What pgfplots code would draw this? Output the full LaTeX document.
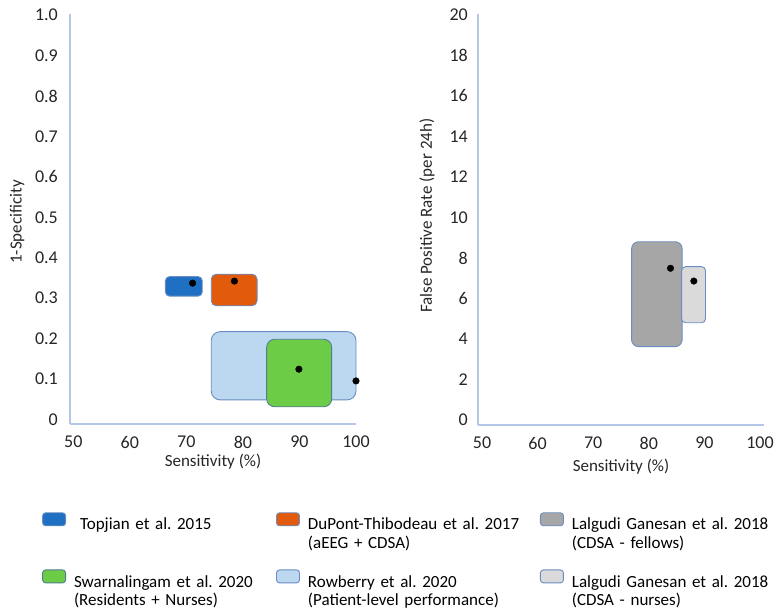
\documentclass[border=0pt]{standalone}
\usepackage{pgfplots}
\pgfplotsset{compat=1.18}
\usepackage{fontspec}
\setmainfont{Carlito}
\frenchspacing

\definecolor{axblue}{HTML}{B4C7E7}
\definecolor{tickgray}{HTML}{262626}
\definecolor{edge}{HTML}{6A8CC2}
\definecolor{cTop}{HTML}{1F6FC2}
\definecolor{cDup}{HTML}{E25A0C}
\definecolor{cSwa}{HTML}{6CCC46}
\definecolor{eSwa}{HTML}{4F7F8E}
\definecolor{cRow}{HTML}{BBD8F0}
\definecolor{cFel}{HTML}{A6A6A6}
\definecolor{cNur}{HTML}{DADADA}

\newcommand\tickfont{\fontsize{18}{21}\selectfont}
\newcommand\labfont{\fontsize{17}{20}\selectfont}
\newcommand\legfont{\fontsize{17}{18.5}\selectfont}

\pgfplotsset{
  panel/.style={
    scale only axis, width=286pt,
    axis lines*=left,
    axis line style={draw=axblue, line width=1.2pt},
    major tick length=0pt,
    tick style={draw=none},
    ticklabel style={font=\tickfont, text=tickgray},
    xticklabel style={inner sep=0pt, anchor=north, yshift=-12pt},
    xtick={50,60,70,80,90,100},
    xticklabels={50,60,70,80,90,100},
    label style={font=\labfont, text=tickgray},
    clip=false,
  },
  box/.style={rounded corners=#1, line width=0.9pt, draw=edge},
  dot/.style={only marks, mark=*, mark size=3.3pt, black, forget plot},
}

\begin{document}
\begin{tikzpicture}
\useasboundingbox (0pt,0pt) rectangle (778pt,609pt);

% Sensitivity vs 1-specificity
\begin{axis}[panel, at={(70pt,185pt)}, anchor=south west, height=410pt,
  xmin=49.42, xmax=100, ymin=-0.0116, ymax=1.003,
  ytick={0,0.1,0.2,0.3,0.4,0.5,0.6,0.7,0.8,0.9,1.0},
  yticklabels={0,0.1,0.2,0.3,0.4,0.5,0.6,0.7,0.8,0.9,1.0},
  yticklabel style={inner sep=0pt, anchor=east, xshift=-12pt},
  ylabel={1-Specificity},
  ylabel style={at={(axis description cs:-0.185,0.493)}, anchor=center},
  xlabel={Sensitivity (\%)},
  xlabel style={at={(axis description cs:0.5,-0.093)}, anchor=center},
  legend columns=3,
  legend cell align=left,
  legend style={at={(axis description cs:-0.098,-0.215)}, anchor=north west,
    draw=none, fill=none, inner sep=0pt, font=\legfont, row sep=37pt,
    /tikz/every odd column/.style={column sep=7pt},
    nodes={inner sep=1pt, align=left}},
  legend image code/.code={\draw[#1, rounded corners=3pt, line width=0.9pt] (0pt,-1pt) rectangle (23pt,12pt);},
]
% confidence regions
\addplot[box=4pt, fill=cTop, forget plot] coordinates {(66.3,0.305) (72.8,0.305) (72.8,0.353) (66.3,0.353)} -- cycle;
\addplot[box=5pt, fill=cDup, forget plot] coordinates {(74.4,0.281) (82.5,0.281) (82.5,0.359) (74.4,0.359)} -- cycle;
\addplot[box=9pt, fill=cRow, forget plot] coordinates {(74.4,0.048) (100.0,0.048) (100.0,0.217) (74.4,0.217)} -- cycle;
\addplot[box=8pt, fill=cSwa, draw=eSwa, forget plot] coordinates {(84.2,0.031) (95.7,0.031) (95.7,0.198) (84.2,0.198)} -- cycle;
% point estimates
\addplot[dot] coordinates {(71.1,0.337) (78.5,0.342) (89.9,0.124) (100.0,0.095)};

% legend
\addlegendimage{fill=cTop, draw=edge}
\addlegendentry[text width=201pt]{\hspace*{6pt}Topjian et al. 2015}
\addlegendimage{fill=cDup, draw=edge}
\addlegendentry[text width=231pt]{DuPont-Thibodeau et al. 2017\\(aEEG + CDSA)}
\addlegendimage{fill=cFel, draw=edge}
\addlegendentry[text width=200pt]{Lalgudi Ganesan et al. 2018\\(CDSA - fellows)}
\addlegendimage{fill=cSwa, draw=eSwa}
\addlegendentry[text width=201pt]{Swarnalingam et al. 2020\\(Residents + Nurses)}
\addlegendimage{fill=cRow, draw=edge}
\addlegendentry[text width=231pt]{Rowberry et al. 2020\\(Patient-level performance)}
\addlegendimage{fill=cNur, draw=edge}
\addlegendentry[text width=200pt]{Lalgudi Ganesan et al. 2018\\(CDSA - nurses)}
\end{axis}

% Sensitivity vs false positive rate
\begin{axis}[panel, at={(478pt,184pt)}, anchor=south west, height=411pt,
  xmin=49.28, xmax=100.72, ymin=-0.25, ymax=20.05,
  ytick={0,2,4,6,8,10,12,14,16,18,20},
  yticklabels={0,2,4,6,8,10,12,14,16,18,20},
  yticklabel style={inner sep=0pt, anchor=east, xshift=-10pt},
  ylabel={False Positive Rate (per 24h)},
  ylabel style={at={(axis description cs:-0.178,0.509)}, anchor=center},
  xlabel={Sensitivity (\%)},
  xlabel style={at={(axis description cs:0.5,-0.102)}, anchor=center},
]
\addplot[box=7pt, fill=cFel] coordinates {(76.9,3.62) (86.0,3.62) (86.0,8.80) (76.9,8.80)} -- cycle;
\addplot[box=4pt, fill=cNur] coordinates {(85.9,4.80) (90.2,4.80) (90.2,7.57) (85.9,7.57)} -- cycle;
\addplot[dot] coordinates {(83.9,7.49) (88.1,6.86)};
\end{axis}
\end{tikzpicture}
\end{document}
